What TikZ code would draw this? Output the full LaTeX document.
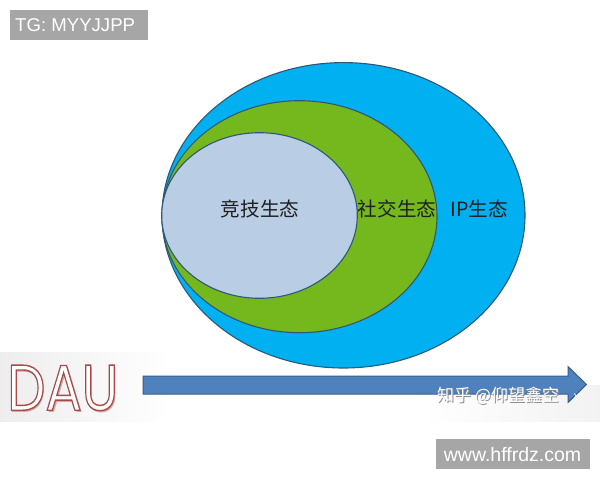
\documentclass[tikz,border=0pt]{standalone}
\usepackage{fontspec}
\setmainfont{Liberation Sans}
\newfontfamily\cjk{Noto Sans CJK SC}
\newfontfamily\daufont{Poppins}
\usepackage{graphicx}
\definecolor{outerblue}{HTML}{00B0F0}
\definecolor{midgreen}{HTML}{74B81E}
\definecolor{innerblue}{HTML}{B9CDE5}
\definecolor{ringline}{HTML}{2F5877}
\definecolor{arrowfill}{HTML}{4F81BD}
\definecolor{arrowline}{HTML}{385D8A}
\definecolor{tagbg}{HTML}{A6A6A6}
\definecolor{daushadow}{HTML}{D2AAAA}
\newcommand{\outlinetext}[1]{\special{pdf:literal direct 2 Tr 0.22 w 0.66 0.29 0.29 RG}#1\special{pdf:literal direct 0 Tr}}
\newcommand{\shadowtext}[1]{\makebox[0pt][l]{\kern0.33pt\raisebox{-0.33pt}{\color{daushadow}#1}}}
\tikzset{
  ring/.style={draw=ringline, line width=1.1pt},
  eco/.style={font=\cjk\fontsize{19.6}{22}\selectfont, text=black!88, inner sep=0pt},
  tagbox/.style={fill=tagbg, text=white, inner sep=0pt, anchor=north west},
}
\begin{document}
\begin{tikzpicture}[x=1pt,y=-1pt]
\useasboundingbox (0,0) rectangle (600,480);
% faint slide background patches
\shade[left color=black!7, right color=white] (0,352) rectangle (170,421);
\shade[left color=white, right color=black!5] (420,385) rectangle (600,421);
% ellipses
\path[ring, fill=outerblue] (343.5,215.3) ellipse [x radius=181.5, y radius=152.7];
\path[ring, fill=midgreen] (299.5,216.7) ellipse [x radius=137.5, y radius=116];
\path[ring, fill=innerblue] (259.5,215.5) ellipse [x radius=97.8, y radius=82.8];
% labels
\node[eco] (jingji) at (260,209.5) {竞技生态};
\node[eco] (shejiao) at (397,209) {社交生态};
\node[eco] (ip) at (479,208.5) {IP生态};
% arrow
\coordinate (a1) at (143,376);
\coordinate (a2) at (568,376);
\coordinate (a3) at (568,366.5);
\coordinate (tip) at (586.5,384.5);
\coordinate (a5) at (568,402.5);
\coordinate (a6) at (568,394);
\coordinate (a7) at (143,394);
\draw[fill=arrowfill, draw=arrowline, line width=1pt, line join=miter]
  (a1) -- (a2) -- (a3) -- (tip) -- (a5) -- (a6) -- (a7) -- cycle;
% DAU: shadow and outlined white letters in one node
\node[inner sep=0pt, anchor=north west] (dau) at (7,365)
  {\resizebox{111pt}{45pt}{\daufont\shadowtext{DAU}\color{white}\outlinetext{DAU}}};
% watermark
\node[anchor=west, inner sep=0pt, text=black!45, font=\cjk\fontsize{17}{20}\selectfont] (wmshadow) at (438,397) {知乎 @仰望鑫空};
\node[anchor=west, inner sep=0pt, text=white, font=\cjk\fontsize{17}{20}\selectfont] (wm) at (437,396) {知乎 @仰望鑫空};
\node[anchor=west, inner sep=0pt, text=white, font=\cjk\fontsize{14}{16}\selectfont] (wmarrow) at (573,397) {›};
% tags
\node[tagbox, minimum width=138pt, minimum height=30pt] (tg) at (10,10) {};
\node[anchor=west, inner sep=0pt, text=white, font=\fontsize{18.6}{20}\selectfont] (tgtext) at (15,25.5) {TG: MYYJJPP};
\node[tagbox, minimum width=154pt, minimum height=30pt] (www) at (436,439) {};
\node[inner sep=0pt, text=white, font=\fontsize{19.5}{21}\selectfont] (wwwtext) at (512.5,455) {www.hffrdz.com};
\end{tikzpicture}
\end{document}
